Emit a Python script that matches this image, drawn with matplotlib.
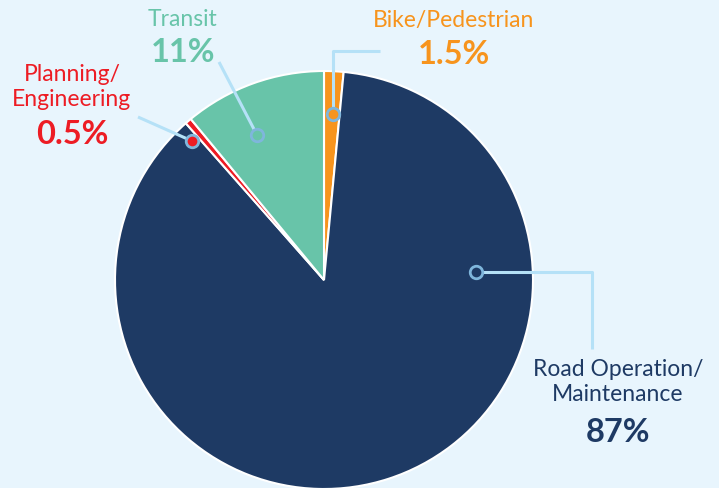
import matplotlib
matplotlib.use("Agg")
import matplotlib.pyplot as plt

# slice data, clockwise from 12 o'clock
categories = ["Bike/Pedestrian", "Road Operation/\nMaintenance", "Planning/\nEngineering", "Transit"]
shares = [1.5, 87, 0.5, 11]
pct_labels = ["1.5%", "87%", "0.5%", "11%"]
colors = ["#f7941d", "#1e3a64", "#ed1c24", "#68c4a9"]

bg = "#e8f5fd"
line_c = "#b5e1f7"

fig = plt.figure(figsize=(7.19, 4.89), dpi=100, facecolor=bg)
ax = fig.add_axes([0, 0, 1, 1])
ax.set_facecolor(bg)
ax.set_aspect("equal")

# y axis is inverted so startangle/counterclock are flipped to get clockwise from top
ax.pie(shares, colors=colors, startangle=-90, counterclock=True,
       center=(324, 281), radius=209, frame=True,
       wedgeprops=dict(edgecolor="white", linewidth=1.5))
ax.set_xlim(0, 719)
ax.set_ylim(489, 0)  # pixel coordinates, y down
ax.axis("off")

# leader lines: marker point then path to the label
leaders = [
    [(333, 115), (333, 52), (380, 52)],
    [(476, 273), (592, 273), (592, 350)],
    [(192, 142), (138, 118)],
    [(257, 136), (219, 63)],
]
for pts, c in zip(leaders, colors):
    xs = [p[0] for p in pts]
    ys = [p[1] for p in pts]
    ax.plot(xs, ys, color=line_c, lw=2.2, solid_capstyle="butt", zorder=3)
    ax.plot(xs[0], ys[0], "o", ms=9, mfc=c, mec="#7fb6dc", mew=2, zorder=4)

# label positions (name, percentage)
name_pos = [(454, 20), (618, 382), (72, 87), (183, 20)]
pct_pos = [(454, 55), (618, 432), (72, 134), (183, 53)]
for name, pct, c, npos, ppos in zip(categories, pct_labels, colors, name_pos, pct_pos):
    ax.text(npos[0], npos[1], name, color=c, ha="center", va="center",
            fontsize=16.5, family="Lato", linespacing=1.2)
    ax.text(ppos[0], ppos[1], pct, color=c, ha="center", va="center",
            fontsize=23.5, family="Lato", fontweight="bold")

fig.savefig("out.png", dpi=100, facecolor=bg)
